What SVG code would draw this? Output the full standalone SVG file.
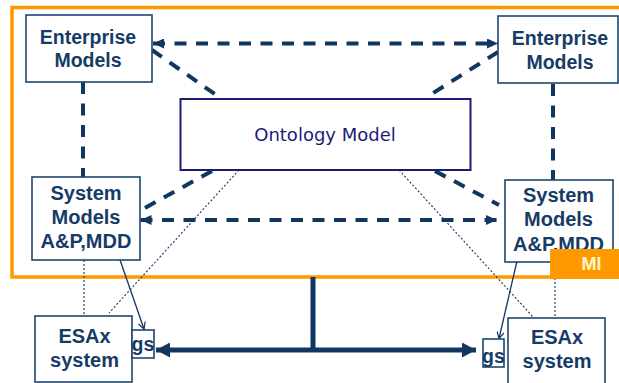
<svg xmlns="http://www.w3.org/2000/svg" width="619" height="383" viewBox="0 0 619 383">
  <defs>
    <marker id="headFilled" markerUnits="userSpaceOnUse" markerWidth="11" markerHeight="10" refX="11" refY="5" orient="auto-start-reverse">
      <path d="M0,0 L11,5 L0,10 z" fill="#11365f"/>
    </marker>
    <marker id="headBus" markerUnits="userSpaceOnUse" markerWidth="14" markerHeight="15" refX="14" refY="7.5" orient="auto-start-reverse">
      <path d="M0,0 L14,7.5 L0,15 z" fill="#11365f"/>
    </marker>
    <marker id="headThin" markerUnits="userSpaceOnUse" markerWidth="8" markerHeight="8" refX="7" refY="4" orient="auto">
      <path d="M0.5,0.5 L7,4 L0.5,7.5" fill="none" stroke="#11365f" stroke-width="1.2"/>
    </marker>
    <style>
      .box { fill: #ffffff; stroke: #1d4670; stroke-width: 1.6; }
      .lbl { font-family: "Liberation Sans", Arial, sans-serif; font-weight: bold; font-size: 20px; fill: #163b66; text-anchor: middle; }
      .small { font-size: 19.5px; }
      .dash { fill: none; stroke: #11365f; stroke-width: 4; stroke-dasharray: 12 9.5; }
      .dot { fill: none; stroke: #11365f; stroke-width: 1.1; stroke-dasharray: 2 2; }
      .thin { fill: none; stroke: #11365f; stroke-width: 1.3; }
      .bus { fill: none; stroke: #11365f; stroke-width: 5; }
    </style>
  </defs>

  <rect width="619" height="383" fill="#ffffff"/>

  <!-- enclosing MI frame -->
  <rect id="mi-frame" x="12" y="7.5" width="620" height="269.5" fill="none" stroke="#ff9900" stroke-width="3.5"/>

  <!-- connectors -->
  <g id="connectors">
    <line class="dash" x1="153" y1="43.5" x2="498" y2="43.5" marker-start="url(#headFilled)" marker-end="url(#headFilled)"/>
    <line class="dash" x1="140.5" y1="220" x2="497" y2="220" marker-start="url(#headFilled)" marker-end="url(#headFilled)"/>
    <line class="dash" x1="152" y1="50" x2="219" y2="97"/>
    <line class="dash" x1="498" y1="52" x2="430" y2="95"/>
    <line class="dash" x1="212" y1="171" x2="143" y2="209"/>
    <line class="dash" x1="435" y1="171" x2="499" y2="205"/>
    <line class="dash" x1="83" y1="82" x2="83" y2="177"/>
    <line class="dash" x1="553" y1="84" x2="553" y2="180"/>
    <line class="dot" x1="239" y1="170" x2="109" y2="313"/>
    <line class="dot" x1="399" y1="170" x2="534" y2="318"/>
    <line class="dot" x1="84" y1="260" x2="84" y2="316"/>
    <line class="dot" x1="555" y1="262" x2="555" y2="318"/>
    <line class="thin" x1="119" y1="257" x2="144" y2="329" marker-end="url(#headThin)"/>
    <line class="thin" x1="517" y1="261" x2="499" y2="338.5" marker-end="url(#headThin)"/>
    <line class="bus" x1="313" y1="277" x2="313" y2="350"/>
    <line class="bus" x1="156" y1="350" x2="476" y2="350" marker-start="url(#headBus)" marker-end="url(#headBus)"/>
  </g>

  <!-- nodes -->
  <g id="enterprise-left">
    <rect class="box" x="26" y="15" width="126" height="67"/>
    <text class="lbl small" x="88" y="43.5">Enterprise</text>
    <text class="lbl small" x="88" y="66.5">Models</text>
  </g>
  <g id="enterprise-right">
    <rect class="box" x="498" y="16" width="120" height="67"/>
    <text class="lbl small" x="560" y="45">Enterprise</text>
    <text class="lbl small" x="560" y="68.5">Models</text>
  </g>
  <g id="ontology">
    <rect x="180.5" y="99" width="290" height="71" fill="#ffffff" stroke="#1c1c72" stroke-width="2"/>
    <text x="325" y="141" font-family="DejaVu Sans, Verdana, sans-serif" font-size="18" fill="#1c1c78" text-anchor="middle">Ontology Model</text>
  </g>
  <g id="system-left">
    <rect class="box" x="32" y="177" width="108" height="83"/>
    <text class="lbl" x="86" y="200">System</text>
    <text class="lbl" x="86" y="224">Models</text>
    <text class="lbl" x="86" y="247.5">A&amp;P,MDD</text>
  </g>
  <g id="system-right">
    <rect class="box" x="505" y="180" width="108" height="82"/>
    <text class="lbl" x="558.5" y="201.5">System</text>
    <text class="lbl" x="558.5" y="226">Models</text>
    <text class="lbl" x="558.5" y="250.5">A&amp;P,MDD</text>
  </g>
  <g id="esax-left">
    <rect class="box" x="35" y="316" width="97" height="66"/>
    <text class="lbl" x="84.5" y="342.5">ESAx</text>
    <text class="lbl" x="84.5" y="366.5">system</text>
  </g>
  <g id="gs-left">
    <rect class="box" x="132" y="330" width="22" height="28"/>
    <text class="lbl" x="143" y="351" style="font-size:19.5px">gs</text>
  </g>
  <g id="esax-right">
    <rect class="box" x="508" y="318" width="97" height="72"/>
    <text class="lbl" x="557" y="344">ESAx</text>
    <text class="lbl" x="557" y="368">system</text>
  </g>
  <g id="gs-right">
    <rect class="box" x="483" y="339" width="21" height="28"/>
    <text class="lbl" x="493.5" y="362.5" style="font-size:19.5px">gs</text>
  </g>
  <g id="mi-tag">
    <rect x="550" y="249" width="70" height="30" fill="#ff9900"/>
    <text x="591.5" y="270" font-family="Liberation Sans, Arial, sans-serif" font-weight="bold" font-size="18" fill="#fff8c8" text-anchor="middle">MI</text>
  </g>
</svg>
